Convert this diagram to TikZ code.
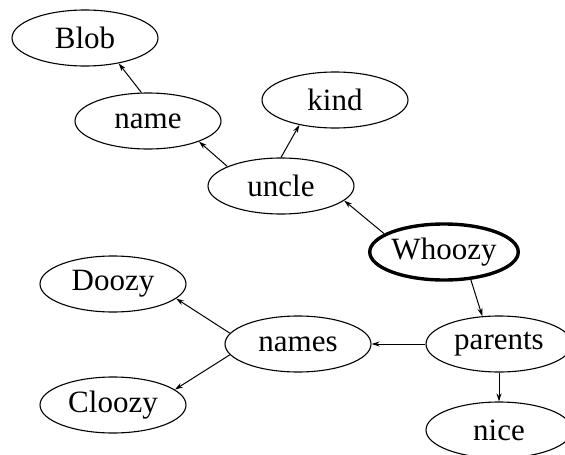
\documentclass[tikz,border=0pt]{standalone}
\usepackage{fontspec}
\setmainfont{Liberation Serif}
\usetikzlibrary{shapes.geometric,arrows.meta}
\begin{document}
\begin{tikzpicture}[x=1pt,y=-1pt,
  nd/.style={ellipse,draw,line width=1.1pt,minimum width=146pt,minimum height=56pt,inner sep=0pt,font=\fontsize{31}{31}\selectfont},
  bold/.style={line width=3.4pt},
  conn/.style={line width=1pt,-{Stealth[length=8pt,width=5pt]}}]
\useasboundingbox (0,0) rectangle (565,455);
\node[nd] (blob) at (85,38) {Blob};
\node[nd] (name) at (148,121) {name};
\node[nd] (kind) at (335,100) {kind};
\node[nd] (uncle) at (281,186) {uncle};
\node[nd,bold,minimum width=147pt] (whoozy) at (444,252) {Whoozy};
\node[nd] (parents) at (499,344) {parents};
\node[nd] (nice) at (499,430) {nice};
\node[nd] (names) at (298,344) {names};
\node[nd] (doozy) at (113,284) {Doozy};
\node[nd] (cloozy) at (113,405) {Cloozy};
\draw[conn] (name.103) -- (blob.323);
\draw[conn] (uncle.160) -- (name.338);
\draw[conn] (uncle.90) -- (kind.215);
\draw[conn] (whoozy.163) -- (uncle.347);
\draw[conn] (whoozy.314) -- (parents.121);
\draw[conn] (parents) -- (names);
\draw[conn] (parents) -- (nice);
\draw[conn] (names.171) -- (doozy.347);
\draw[conn] (names.189) -- (cloozy.14);
\end{tikzpicture}
\end{document}
